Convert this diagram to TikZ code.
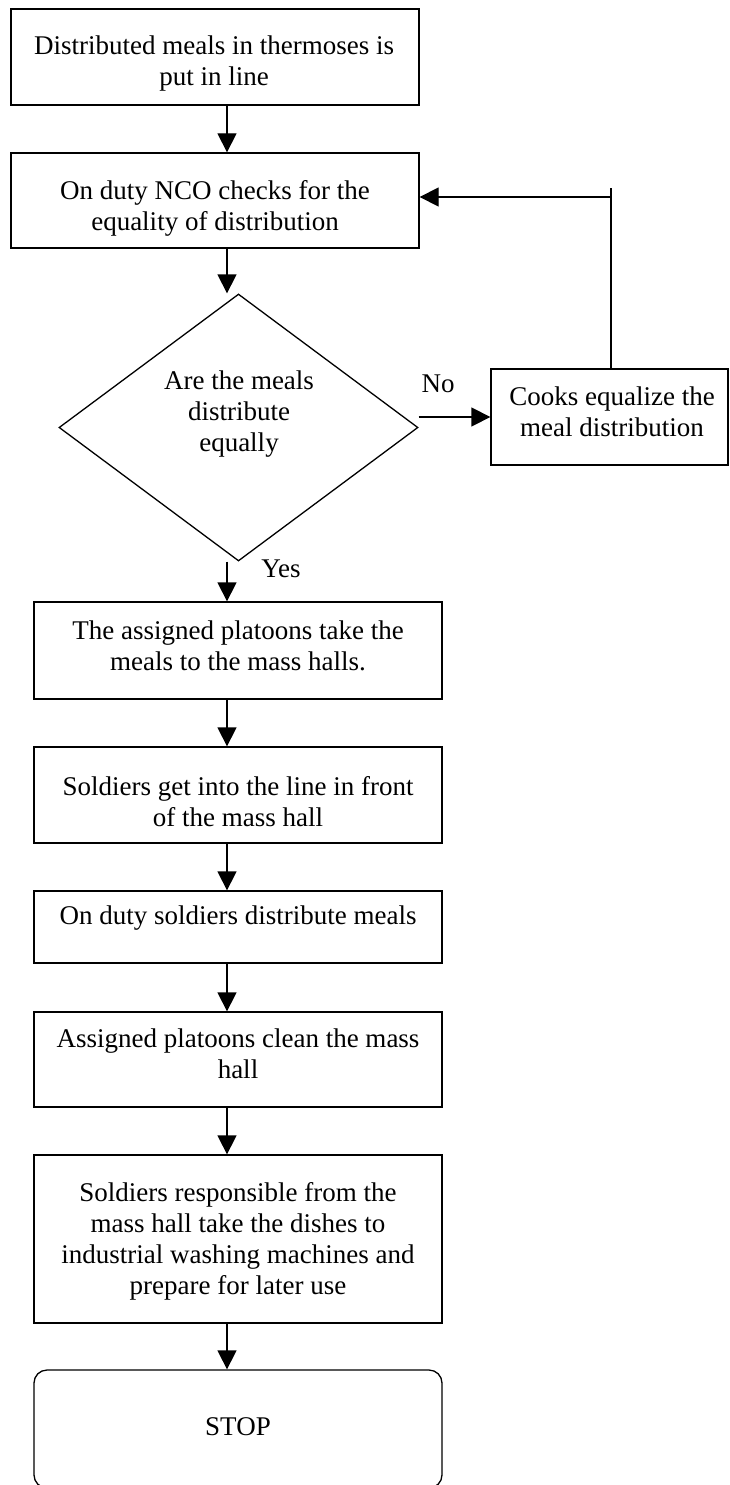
\documentclass[tikz,border=0pt]{standalone}
\usepackage{fontspec}
\setmainfont{Liberation Serif}
\usetikzlibrary{arrows.meta,shapes.geometric}
\begin{document}
\begin{tikzpicture}[x=1pt, y=-1pt, line width=1.3pt,
    box/.style={draw, rectangle, minimum width=408pt, inner sep=0pt},
    txt/.style={align=center, font=\fontsize{27}{31}\selectfont, inner sep=0pt},
    arr/.style={-{Triangle[length=19pt, width=19pt]}}]
  \useasboundingbox (0,0) rectangle (730,1485);
  \clip (0,0) rectangle (730,1485);
  \node[box, minimum height=96pt] (b1) at (215,57) {};
  \node[box, minimum height=95pt] (b2) at (215,200.5) {};
  \node[draw, diamond, minimum width=359pt, minimum height=267pt, inner sep=0pt] (dia) at (238.5,427.5) {};
  \node[box, minimum width=237pt, minimum height=96pt] (cooks) at (609.5,417) {};
  \node[box, minimum height=97pt] (b3) at (238,650.5) {};
  \node[box, minimum height=96pt] (b4) at (238,795) {};
  \node[box, minimum height=72pt] (b5) at (238,927) {};
  \node[box, minimum height=95pt] (b6) at (238,1059.5) {};
  \node[box, minimum height=168pt] (b7) at (238,1239) {};
  \node[box, rounded corners=13pt, minimum height=118pt] (stop) at (238,1429) {};
  % texts
  \node[txt] (t1) at (214,64) {Distributed meals in thermoses is\\put in line};
  \node[txt] (t2) at (215,208) {On duty NCO checks for the\\equality of distribution};
  \node[txt] (tq) at (239,414) {Are the meals\\distribute\\equally};
  \node[txt] (tc) at (612,412) {Cooks equalize the\\meal distribution};
  \node[txt] (t3) at (238,646) {The assigned platoons take the\\meals to the mass halls.};
  \node[txt] (t4) at (238,802) {Soldiers get into the line in front\\of the mass hall};
  \node[txt] (t5) at (238,918) {On duty soldiers distribute meals};
  \node[txt] (t6) at (238,1054) {Assigned platoons clean the mass\\hall};
  \node[txt] (t7) at (238,1241) {Soldiers responsible from the\\mass hall take the dishes to\\industrial washing machines and\\prepare for later use};
  \node[txt] (ts) at (238,1427) {STOP};
  \node[txt] (no) at (438,384) {No};
  \node[txt] (yes) at (281,569) {Yes};
  % connectors
  \coordinate (ax) at (227,0);
  \coordinate (fb) at (611,197);
  \coordinate (fbtop) at (611,188);
  \foreach \a/\b in {b1/b2, b3/b4, b4/b5, b5/b6, b6/b7, b7/stop}
    \draw[arr] (\a.south -| ax) -- (\b.north -| ax);
  \draw[arr] (b2.south -| ax) -- (ax |- dia.north);
  \draw[arr] (ax |- dia.south) -- (b3.north -| ax);
  \draw[arr] (dia.east |- cooks.west) -- (cooks.west);
  \draw (fbtop) -- (fbtop |- cooks.north);
  \draw[arr] (fb) -- (fb -| b2.east);
\end{tikzpicture}
\end{document}
